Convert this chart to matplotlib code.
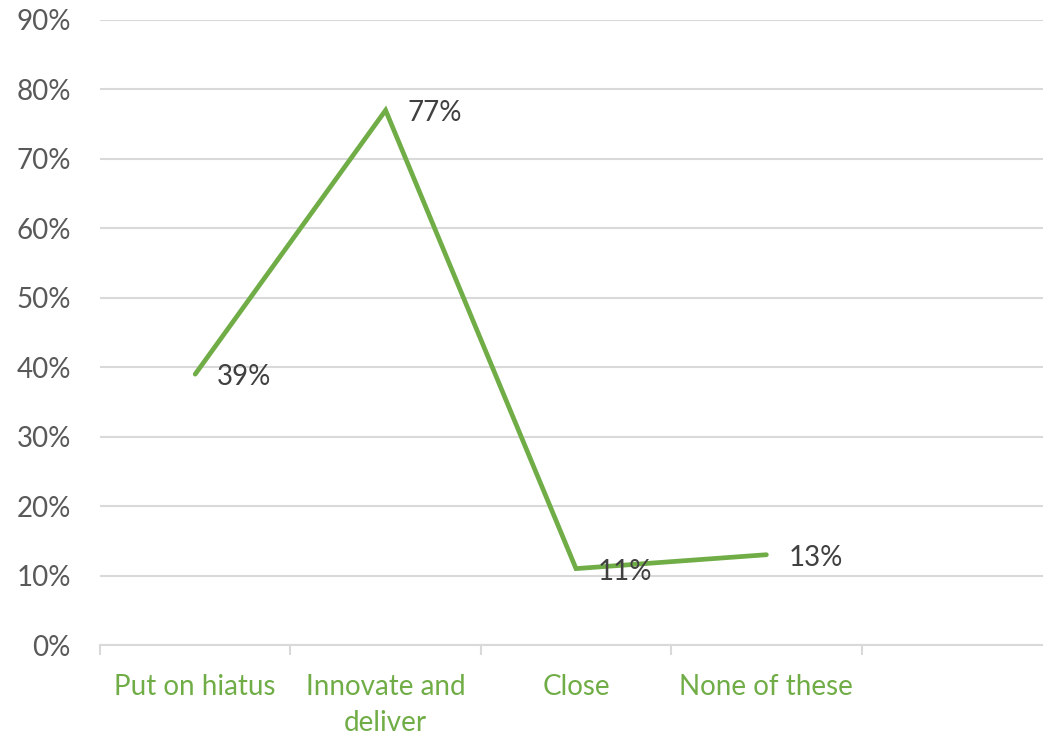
import matplotlib.pyplot as plt
import numpy as np

plt.rcParams['font.family'] = ['Lato', 'DejaVu Sans']

categories = ['Put on hiatus', 'Innovate and\ndeliver', 'Close', 'None of these']
values = [39, 77, 11, 13]
yticks = [0, 10, 20, 30, 40, 50, 60, 70, 80, 90]

green = '#70AD47'
grid_col = '#D9D9D9'

fig = plt.figure(figsize=(10.43, 7.38), dpi=100)
ax = fig.add_axes([100 / 1043, 93 / 738, 952 / 1043, 625 / 738])

x = np.arange(len(values))
ax.plot(x, values, color=green, lw=3.4, solid_capstyle='round', solid_joinstyle='miter', zorder=3)

for xi, v in zip(x, values):
    ax.annotate(f'{v}%', (xi, v), xytext=(22, -3), textcoords='offset pixels',
                ha='left', va='center', fontsize=20, color='#404040', zorder=4)

ax.set_xlim(-0.5, 4.5)
ax.set_ylim(0, 90)
ax.set_yticks(yticks)
ax.set_yticklabels([f'{t}%' for t in yticks])
ax.yaxis.grid(True, color=grid_col, lw=1.5)
ax.set_axisbelow(True)

ax.set_xticks(x)
ax.set_xticklabels(categories)
for lab in ax.get_xticklabels():
    lab.set_linespacing(1.45)
ax.set_xticks(np.arange(-0.5, 5.0, 1.0), minor=True)
ax.tick_params(axis='x', which='major', length=0, pad=21, labelsize=20, labelcolor=green)
ax.tick_params(axis='x', which='minor', length=7.5, width=1.5, color=grid_col)
ax.tick_params(axis='y', length=0, pad=21, labelsize=20, labelcolor='#595959')

for s in ['top', 'right', 'left']:
    ax.spines[s].set_visible(False)
ax.spines['bottom'].set_color(grid_col)
ax.spines['bottom'].set_linewidth(1.5)

fig.savefig('out.png', dpi=100)
